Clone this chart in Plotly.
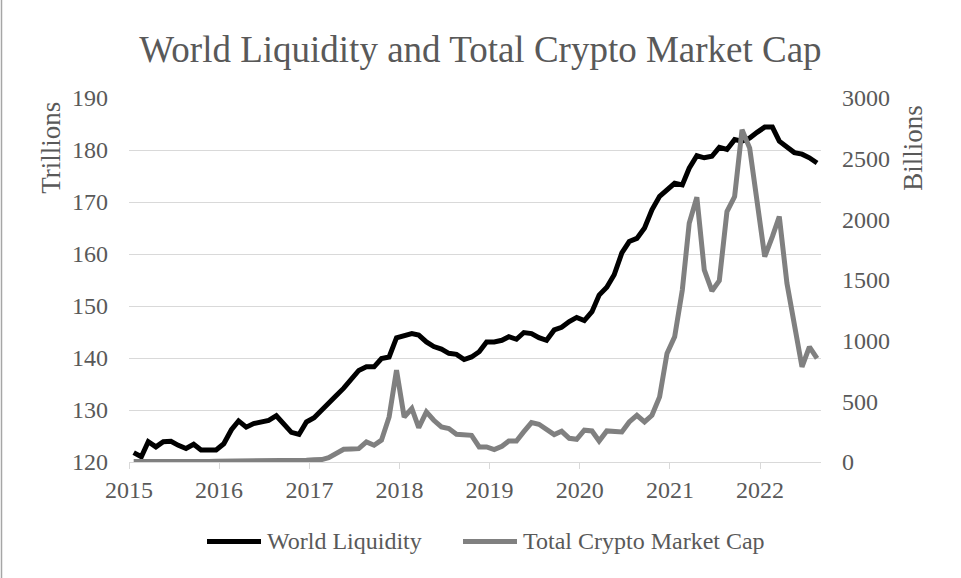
import pandas as pd
import plotly.graph_objects as go

# Monthly observations, Jan 2015 - Aug 2022
dates = pd.date_range("2015-01-20", periods=92, freq=pd.DateOffset(months=1))

world_liquidity = [
    121.8, 121.0, 123.9, 122.9, 123.9, 124.0, 123.2, 122.6, 123.4, 122.3, 122.3, 122.3,
    123.5, 126.2, 127.9, 126.7, 127.4, 127.6, 128.0, 128.9, 127.1, 125.7, 125.3, 127.7,
    128.5, 130.0, 131.6, 132.8, 134.2, 136.1, 137.6, 138.3, 138.3, 139.9, 140.2, 143.9,
    144.2, 144.7, 144.4, 143.1, 142.2, 141.7, 140.9, 140.7, 139.7, 140.2, 141.2, 143.1,
    143.1, 143.4, 144.1, 143.6, 144.9, 144.7, 143.9, 143.4, 145.4, 145.9, 147.0, 147.8,
    147.2, 148.9, 152.1, 153.6, 156.0, 160.2, 162.4, 163.0, 165.0, 168.5, 171.1, 172.4,
    173.6, 173.3, 176.5, 178.9, 178.5, 178.8, 180.5, 180.1, 182.0, 181.7, 182.3, 183.4,
    184.4, 184.4, 181.7, 180.6, 179.5, 179.2, 178.5, 177.5,
]

crypto_market_cap = [
    5, 4, 4, 4, 4, 4, 5, 4, 4, 4, 5, 6,
    6, 6, 7, 7, 9, 11, 10, 10, 11, 12, 11, 14,
    18, 20, 35, 70, 105, 108, 110, 165, 138, 180, 371, 757,
    371, 441, 284, 413, 344, 289, 276, 229, 222, 220, 124, 124,
    102, 130, 173, 173, 250, 325, 311, 265, 226, 253, 195, 187,
    262, 256, 173, 256, 248, 248, 330, 385, 330, 385, 537, 895,
    1032, 1417, 1968, 2183, 1583, 1410, 1495, 2064, 2188, 2738, 2587, 2160,
    1692, 1857, 2023, 1473, 1143, 784, 949, 854,
]

series_names = ["World Liquidity", "Total Crypto Market Cap"]
series_colors = ["#000000", "#808080"]

title_text = "World Liquidity and Total Crypto Market Cap"
left_title = "Trillions"
right_title = "Billions"

FONT = "Liberation Serif, Times New Roman, serif"
TXT = "#595959"
GRID = "#d9d9d9"

# plot-area geometry in pixels (for decorations only)
L, R, T, B = 129, 821, 98.3, 461.7
W, H = R - L, B - T


def px(xp):
    return (xp - L) / W


def py(yp):
    return (B - yp) / H


fig = go.Figure()
fig.add_trace(go.Scatter(x=dates, y=world_liquidity, name=series_names[0],
                         mode="lines",
                         line=dict(color=series_colors[0], width=5),
                         yaxis="y", showlegend=False))
fig.add_trace(go.Scatter(x=dates, y=crypto_market_cap, name=series_names[1],
                         mode="lines",
                         line=dict(color=series_colors[1], width=5),
                         yaxis="y2", showlegend=False))

fig.update_layout(
    width=961, height=578,
    margin=dict(l=129, r=140, t=98, b=116),
    paper_bgcolor="white", plot_bgcolor="white",
    font=dict(family=FONT, color=TXT, size=24),
    title=dict(text=title_text, x=0.5, xref="container", xanchor="center",
               y=1 - 49 / 578, yref="container", yanchor="middle",
               font=dict(family=FONT, size=37, color=TXT)),
    xaxis=dict(type="date", range=["2015-01-01", "2022-09-05"],
               tick0="2015-01-01", dtick="M12", tickformat="%Y",
               showgrid=False, showline=True, linecolor=GRID, linewidth=1,
               ticks="outside", ticklen=6, tickcolor=GRID, tickwidth=1,
               tickfont=dict(size=24, color=TXT), zeroline=False),
    yaxis=dict(range=[120, 190], dtick=10, showgrid=True, gridcolor=GRID,
               gridwidth=1, zeroline=False, showline=False, ticks="",
               ticklabelstandoff=20, tickfont=dict(size=24, color=TXT)),
    yaxis2=dict(range=[0, 3000], dtick=500, overlaying="y", side="right",
                showgrid=False, zeroline=False, showline=False, ticks="",
                ticklabelstandoff=20, tickfont=dict(size=24, color=TXT)),
    showlegend=False,
)

fig.add_annotation(text=left_title, textangle=-90, xref="paper", yref="paper",
                   x=px(51), y=py(148), xanchor="center", yanchor="middle",
                   showarrow=False, font=dict(family=FONT, size=27, color=TXT))
fig.add_annotation(text=right_title, textangle=-90, xref="paper", yref="paper",
                   x=px(913), y=py(148), xanchor="center", yanchor="middle",
                   showarrow=False, font=dict(family=FONT, size=27, color=TXT))

# legend (Excel-style long line keys)
legend_y = 541
legend_keys = [(207, 261, 265), (463, 517, 521)]
for (x0, x1, xt), name, color in zip(legend_keys, series_names, series_colors):
    fig.add_shape(type="line", xref="paper", yref="paper",
                  x0=px(x0), x1=px(x1), y0=py(legend_y), y1=py(legend_y),
                  line=dict(color=color, width=5))
    fig.add_annotation(text=name, xref="paper", yref="paper",
                       x=px(xt), y=py(legend_y), xanchor="left",
                       yanchor="middle", showarrow=False,
                       font=dict(family=FONT, size=24, color=TXT))

# left border line of the chart area
fig.add_shape(type="line", xref="paper", yref="paper",
              x0=px(1.5), x1=px(1.5), y0=py(578), y1=py(0),
              line=dict(color="#a6a6a6", width=1.5))

fig.write_html("out.html")
